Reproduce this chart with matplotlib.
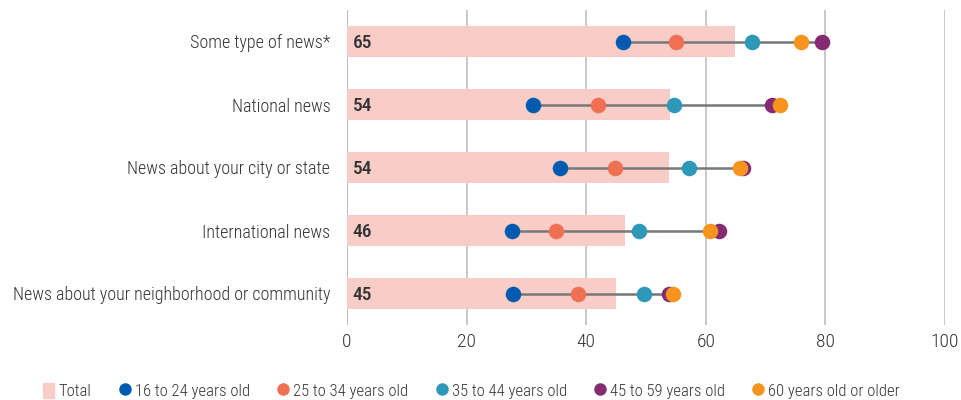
import matplotlib
matplotlib.use("Agg")
import matplotlib.pyplot as plt
from matplotlib.lines import Line2D
from matplotlib.patches import Patch

plt.rcParams['font.family'] = ['Roboto Condensed', 'DejaVu Sans']
plt.rcParams['font.weight'] = 300

categories = ["Some type of news*", "National news", "News about your city or state",
              "International news", "News about your neighborhood or community"]
total = [65, 54, 54, 46, 45]
bar_len = [64.9, 54.0, 53.8, 46.5, 45.0]

groups = ["16 to 24 years old", "25 to 34 years old", "35 to 44 years old",
          "45 to 59 years old", "60 years old or older"]
age_16_24 = [46.2, 31.1, 35.7, 27.6, 27.8]
age_25_34 = [55.1, 41.9, 44.9, 34.9, 38.6]
age_35_44 = [67.8, 54.7, 57.2, 48.8, 49.7]
age_45_59 = [79.5, 71.1, 66.3, 62.2, 53.8]
age_60_up = [75.9, 72.4, 65.7, 60.7, 54.6]
series = [age_16_24, age_25_34, age_35_44, age_45_59, age_60_up]

BAR = "#f8ccc7"
COLORS = ["#005bb0", "#f07054", "#2e98b8", "#842b72", "#f7941d"]
TEXT = "#333333"

fig = plt.figure(figsize=(9.62, 4.0), dpi=100)
ax = fig.add_axes([0.3607, 0.1875, 0.6216, 0.7875])

ypos = list(range(len(categories)))
ax.barh(ypos, bar_len, height=0.49, color=BAR, zorder=1)
for y, v in zip(ypos, total):
    ax.text(0.9, y + 0.03, str(v), va="center", ha="left", fontsize=14,
            fontweight=500, color=TEXT, zorder=5)

# connector line from lowest to highest age group
for i in ypos:
    vals = [s[i] for s in series]
    ax.plot([min(vals), max(vals)], [i, i], color="#777777", lw=1.8, zorder=2)

for s, c in zip(series, COLORS):
    ax.scatter(s, ypos, s=125, color=c, zorder=3, linewidths=0)

ax.set_xlim(0, 100)
ax.set_ylim(4.5, -0.5)
ax.set_xticks([0, 20, 40, 60, 80, 100])
ax.set_yticks(ypos)
ax.set_yticklabels(categories, fontsize=13, color=TEXT)
ax.tick_params(axis="y", length=0, pad=12)
ax.tick_params(axis="x", length=0, labelsize=14, labelcolor=TEXT, pad=6)
ax.xaxis.grid(True, color="#bfbfbf", lw=1.2, zorder=0)
ax.set_axisbelow(True)
for sp in ax.spines.values():
    sp.set_visible(False)
ax.axvline(0, color="#a6a6a6", lw=1.4, zorder=0)

handles = [Patch(color=BAR, label="Total")]
for g, c in zip(groups, COLORS):
    handles.append(Line2D([], [], marker="o", ls="", color=c, markersize=9,
                          markeredgewidth=0, label=g))
fig.legend(handles=handles, loc="lower center", bbox_to_anchor=(0.49, -0.035),
           ncol=6, frameon=False, fontsize=12, handlelength=0.7,
           handleheight=1.0, handletextpad=0.25, columnspacing=1.65,
           labelcolor=TEXT)

fig.savefig("out.png", dpi=100)
